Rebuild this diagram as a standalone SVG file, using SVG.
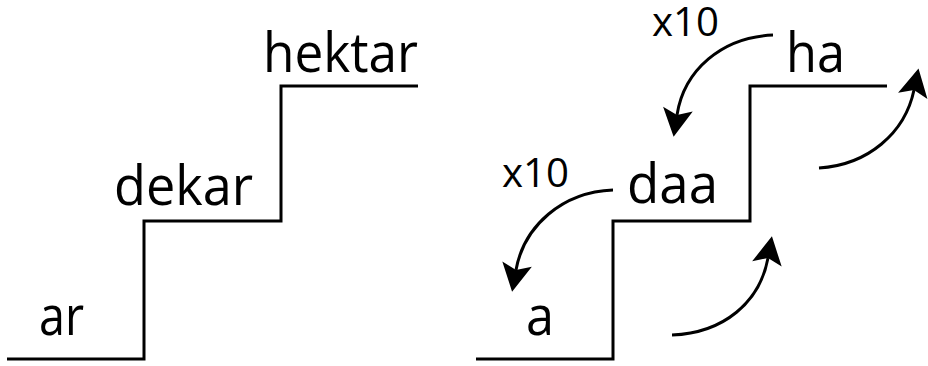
<svg xmlns="http://www.w3.org/2000/svg" width="928" height="366" viewBox="0 0 928 366">
<style>
.step{fill:none;stroke:#000;stroke-width:3;stroke-linejoin:miter}
.lbl{font-family:"Open Sans","Noto Sans",sans-serif;font-size:54px;fill:#000}
.mul{font-family:"Open Sans","Noto Sans",sans-serif;font-size:40px;fill:#000}
.arr{fill:none;stroke:#000;stroke-width:3}
</style>
<defs>
<marker id="ah" markerUnits="userSpaceOnUse" markerWidth="40" markerHeight="40" viewBox="-10 -20 40 40" refX="0" refY="0" orient="auto" overflow="visible">
<path d="M-6,-15 L22,0 L-6,15 L0,0 Z" fill="#000"/>
</marker>
</defs>
<rect width="928" height="366" fill="#fff"/>
<g id="left-stairs">
<path class="step" d="M7,359 H144 V221 H281 V86 H418"/>
</g>
<g id="ar"><text class="lbl" x="39" y="335" textLength="45" lengthAdjust="spacingAndGlyphs">ar</text></g>
<g id="dekar"><text class="lbl" x="114" y="205" textLength="139" lengthAdjust="spacingAndGlyphs">dekar</text></g>
<g id="hektar"><text class="lbl" x="263" y="72" textLength="155" lengthAdjust="spacingAndGlyphs">hektar</text></g>
<g id="right-stairs">
<path class="step" d="M476,359 H613 V221 H750 V86 H887"/>
</g>
<g id="a"><text class="lbl" x="526" y="335" textLength="28" lengthAdjust="spacingAndGlyphs">a</text></g>
<g id="daa"><text class="lbl" x="627" y="203" textLength="91" lengthAdjust="spacingAndGlyphs">daa</text></g>
<g id="ha"><text class="lbl" x="786" y="72" textLength="59" lengthAdjust="spacingAndGlyphs">ha</text></g>
<g id="x10-top"><text class="mul" x="652" y="36" textLength="67" lengthAdjust="spacingAndGlyphs">x10</text></g>
<g id="x10-low"><text class="mul" x="502" y="187" textLength="67" lengthAdjust="spacingAndGlyphs">x10</text></g>
<g id="connectors">
<path class="arr" d="M773,35 C722,37 684,70 677,115" marker-end="url(#ah)"/>
<path class="arr" d="M613,190 C562,192 524,226 516,270" marker-end="url(#ah)"/>
<path class="arr" d="M672,335 C724,333 760,302 768,258" marker-end="url(#ah)"/>
<path class="arr" d="M819,168 C868,165 905,133 914,90" marker-end="url(#ah)"/>
</g>
</svg>
